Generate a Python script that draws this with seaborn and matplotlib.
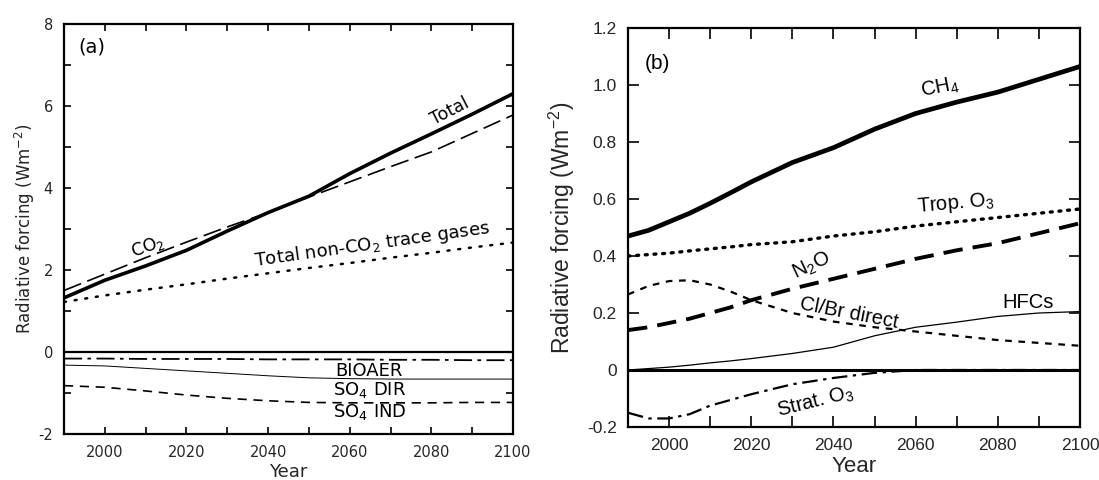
import numpy as np
import pandas as pd
import matplotlib
matplotlib.use("Agg")
import matplotlib.pyplot as plt
from matplotlib.ticker import MultipleLocator, FixedLocator, FuncFormatter
import seaborn as sns

# ---------------- data: panel (a) ----------------
years_a = [1990, 2000, 2010, 2020, 2030, 2040, 2050, 2060, 2070, 2080, 2090, 2100]
total = [1.32, 1.75, 2.10, 2.48, 2.95, 3.40, 3.80, 4.35, 4.85, 5.32, 5.80, 6.30]
co2 = [1.50, 1.90, 2.30, 2.68, 3.05, 3.40, 3.78, 4.15, 4.52, 4.88, 5.33, 5.78]
non_co2 = [1.22, 1.38, 1.52, 1.65, 1.79, 1.92, 2.05, 2.17, 2.30, 2.42, 2.55, 2.67]
bioaer = [-0.16, -0.16, -0.17, -0.17, -0.17, -0.18, -0.18, -0.18, -0.19, -0.19, -0.20, -0.20]
so4_dir = [-0.32, -0.34, -0.40, -0.46, -0.52, -0.58, -0.63, -0.65, -0.66, -0.66, -0.66, -0.66]
so4_ind = [-0.82, -0.86, -0.95, -1.05, -1.13, -1.19, -1.23, -1.24, -1.24, -1.24, -1.23, -1.23]

# ---------------- data: panel (b) ----------------
years_b = [1990, 1995, 2000, 2005, 2010, 2015, 2020, 2030, 2040, 2050, 2060, 2070, 2080, 2090, 2100]
ch4 = [0.47, 0.49, 0.52, 0.55, 0.585, 0.622, 0.66, 0.728, 0.78, 0.845, 0.90, 0.94, 0.975, 1.02, 1.065]
trop_o3 = [0.40, 0.405, 0.41, 0.418, 0.425, 0.432, 0.44, 0.45, 0.47, 0.485, 0.505, 0.52, 0.535, 0.55, 0.565]
n2o = [0.14, 0.15, 0.165, 0.18, 0.20, 0.22, 0.245, 0.285, 0.32, 0.355, 0.39, 0.42, 0.445, 0.48, 0.515]
clbr = [0.265, 0.295, 0.312, 0.315, 0.30, 0.275, 0.245, 0.20, 0.17, 0.15, 0.135, 0.12, 0.105, 0.095, 0.085]
hfcs = [0.0, 0.005, 0.01, 0.017, 0.025, 0.032, 0.04, 0.058, 0.08, 0.12, 0.15, 0.168, 0.188, 0.20, 0.205]
strat_o3 = [-0.15, -0.17, -0.17, -0.155, -0.125, -0.105, -0.085, -0.05, -0.028, -0.01, 0.0, 0.0, 0.0, 0.0, 0.0]

xticks_major = [2000, 2020, 2040, 2060, 2080, 2100]
yticks_a = [-2, 0, 2, 4, 6, 8]
yticks_b = [-0.2, 0, 0.2, 0.4, 0.6, 0.8, 1.0, 1.2]
ytick_labels_b = ["-0.2", "0", "0.2", "0.4", "0.6", "0.8", "1.0", "1.2"]

# ---------------- style ----------------
sns.set_style("ticks")
plt.rcParams["font.family"] = ["Liberation Sans", "DejaVu Sans"]
plt.rcParams["mathtext.fontset"] = "custom"
plt.rcParams["mathtext.rm"] = "Liberation Sans"
plt.rcParams["mathtext.it"] = "Liberation Sans:italic"
plt.rcParams["mathtext.default"] = "regular"
plt.rcParams["axes.unicode_minus"] = False

FA = "DejaVu Sans"      # wider face used for panel (a)

fig = plt.figure(figsize=(10.99, 4.80), dpi=100)
ax1 = fig.add_axes([64 / 1099, 1 - 434 / 480, (513 - 64) / 1099, (434 - 24) / 480])
ax2 = fig.add_axes([628 / 1099, 1 - 427 / 480, (1080 - 628) / 1099, (427 - 28) / 480])

dfa = pd.DataFrame({"year": years_a, "total": total, "co2": co2, "non_co2": non_co2,
                    "bioaer": bioaer, "so4_dir": so4_dir, "so4_ind": so4_ind})
dfb = pd.DataFrame({"year": years_b, "ch4": ch4, "trop_o3": trop_o3, "n2o": n2o,
                    "clbr": clbr, "hfcs": hfcs, "strat_o3": strat_o3})

k = "black"
# ---- panel (a) lines ----
ax1.axhline(0, color=k, lw=1.6, zorder=1)
sns.lineplot(data=dfa, x="year", y="total", ax=ax1, color=k, lw=2.6)
sns.lineplot(data=dfa, x="year", y="co2", ax=ax1, color=k, lw=1.2, linestyle=(0, (11, 4)))
sns.lineplot(data=dfa, x="year", y="non_co2", ax=ax1, color=k, lw=1.8, linestyle=(0, (0.8, 3.5)),
             dash_capstyle="round")
sns.lineplot(data=dfa, x="year", y="bioaer", ax=ax1, color=k, lw=1.3, linestyle=(0, (10, 3, 2, 3)))
sns.lineplot(data=dfa, x="year", y="so4_dir", ax=ax1, color=k, lw=0.7)
sns.lineplot(data=dfa, x="year", y="so4_ind", ax=ax1, color=k, lw=1.2, linestyle=(0, (5.5, 4)))

# ---- panel (b) lines ----
ax2.axhline(0, color=k, lw=2.2, zorder=1)
sns.lineplot(data=dfb, x="year", y="ch4", ax=ax2, color=k, lw=3.4)
sns.lineplot(data=dfb, x="year", y="trop_o3", ax=ax2, color=k, lw=2.4, linestyle=(0, (0.6, 2.0)),
             dash_capstyle="round")
sns.lineplot(data=dfb, x="year", y="n2o", ax=ax2, color=k, lw=2.8, linestyle=(0, (5, 2.6)))
sns.lineplot(data=dfb, x="year", y="clbr", ax=ax2, color=k, lw=1.6, linestyle=(0, (3, 3)))
sns.lineplot(data=dfb, x="year", y="hfcs", ax=ax2, color=k, lw=0.9)
sns.lineplot(data=dfb, x="year", y="strat_o3", ax=ax2, color=k, lw=1.6,
             linestyle=(0, (7, 2.5, 1.5, 2.5)))

# ---- axes formatting ----
for ax, fs_tick, tl in ((ax1, 10.5, 5), (ax2, 12.5, 8)):
    ax.set_xlim(1990, 2100)
    ax.xaxis.set_major_locator(FixedLocator(xticks_major))
    ax.xaxis.set_minor_locator(MultipleLocator(10))
    ax.tick_params(which="both", direction="in", top=True, right=True,
                   length=tl, width=1.4, labelsize=fs_tick, pad=8)
    for s in ax.spines.values():
        s.set_linewidth(1.6)
        s.set_color(k)
    ax.set_facecolor("white")

ax1.set_ylim(-2, 8)
ax1.yaxis.set_major_locator(FixedLocator(yticks_a))
ax1.yaxis.set_minor_locator(MultipleLocator(1))
ax1.yaxis.set_major_formatter(FuncFormatter(lambda v, p: f"{v:g}"))
for lab in ax1.get_xticklabels() + ax1.get_yticklabels():
    lab.set_fontfamily(FA)
ax1.set_xlabel("Year", fontsize=13, fontfamily=FA, labelpad=2)
ax1.set_ylabel("Radiative forcing (Wm$^{-2}$)", fontsize=12, fontfamily=FA)
ax1.yaxis.set_label_coords(-0.060, 0.5)

ax2.set_ylim(-0.2, 1.2)
ax2.yaxis.set_major_locator(FixedLocator(yticks_b))
ax2.yaxis.set_major_formatter(FuncFormatter(lambda v, p: ytick_labels_b[p] if p < len(ytick_labels_b) else ""))
ax2.set_xlabel("Year", fontsize=16, labelpad=2)
ax2.set_ylabel("Radiative forcing (Wm$^{-2}$)", fontsize=16.5)
ax2.yaxis.set_label_coords(-0.112, 0.5)

# ---- annotations (a) ----
ta = dict(color=k, ha="center", va="center")
ax1.text(1996.8, 7.45, "(a)", fontsize=14, fontfamily=FA, **ta)
ax1.text(2084.6, 5.86, "Total", fontsize=12.5, fontfamily=FA, rotation=27, **ta)
ax1.text(2010.6, 2.58, "CO$_2$", fontsize=12.5, fontfamily=FA, rotation=20, **ta)
ax1.text(2065.5, 2.63, "Total non-CO$_2$ trace gases", fontsize=13, fontfamily=FA, rotation=8, **ta)
ax1.text(2064.8, -0.46, "BIOAER", fontsize=13, fontfamily=FA, **ta)
ax1.text(2064.8, -0.93, "SO$_4$ DIR", fontsize=13, fontfamily=FA, **ta)
ax1.text(2064.8, -1.46, "SO$_4$ IND", fontsize=13, fontfamily=FA, **ta)

# ---- annotations (b) ----
ax2.text(1997.2, 1.075, "(b)", fontsize=15, **ta)
ax2.text(2066.0, 0.99, "CH$_4$", fontsize=14.5, rotation=11, **ta)
ax2.text(2069.8, 0.584, "Trop. O$_3$", fontsize=14.5, rotation=5, **ta)
ax2.text(2034.7, 0.365, "N$_2$O", fontsize=14.5, rotation=25, **ta)
ax2.text(2043.7, 0.20, "Cl/Br direct", fontsize=14.5, rotation=-11, **ta)
ax2.text(2087.4, 0.238, "HFCs", fontsize=14.5, **ta)
ax2.text(2035.6, -0.112, "Strat. O$_3$", fontsize=14.5, rotation=14, **ta)

fig.savefig("out.png", dpi=100, facecolor="white")
